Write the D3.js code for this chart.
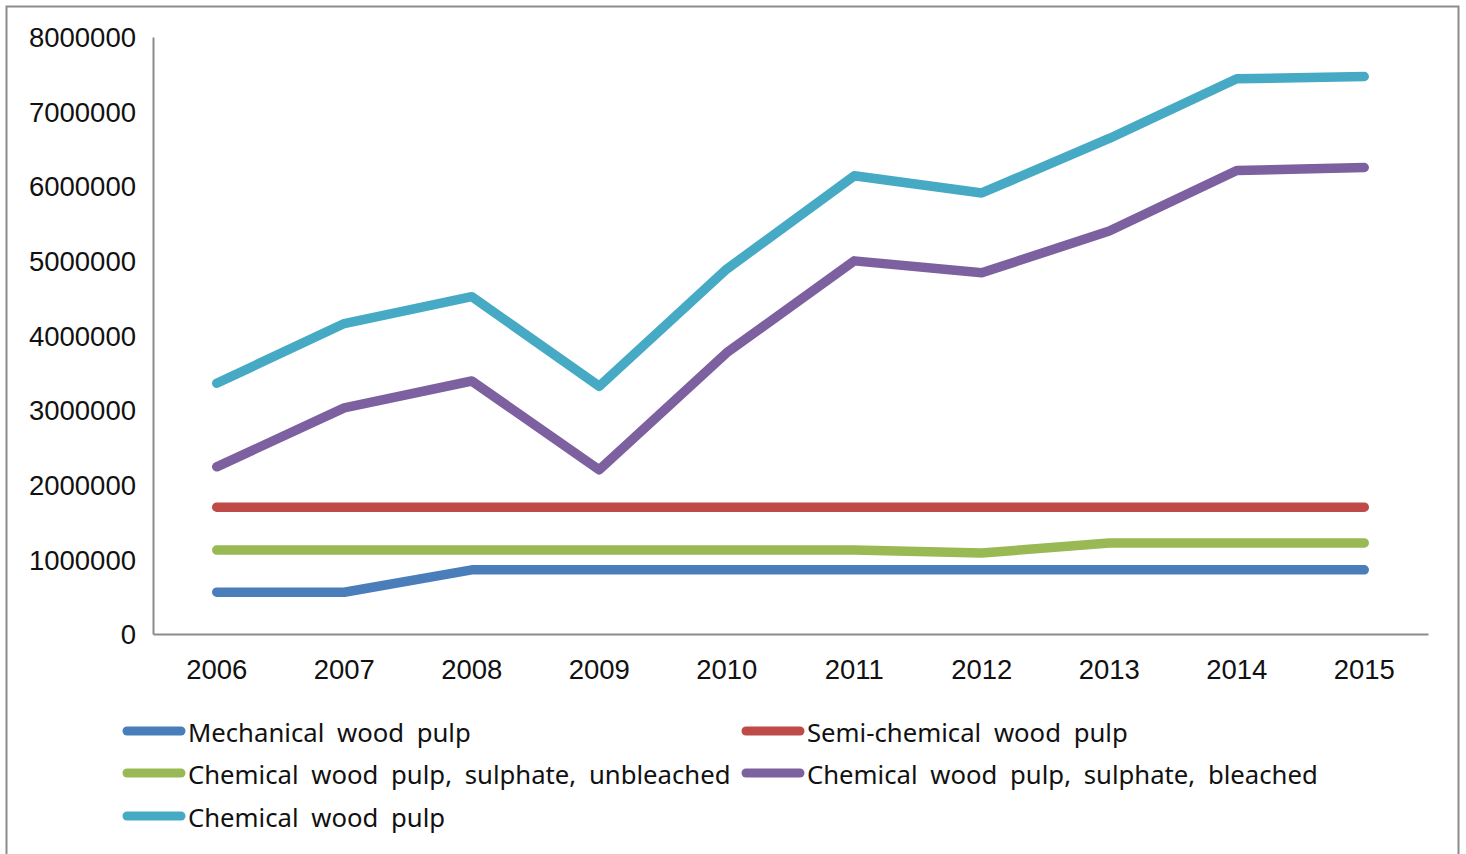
<!DOCTYPE html>
<html>
<head>
<meta charset="utf-8">
<script src="https://cdn.jsdelivr.net/npm/d3@7"></script>
<style>
  body { margin: 0; background: #fff; }
  svg { display: block; }
  .tick text { font-family: "Liberation Sans", Arial, sans-serif; font-size: 27.5px; fill: #111; }
  .legend text { font-family: "Noto Sans", sans-serif; font-size: 25.7px; fill: #111; word-spacing: 6px; }
</style>
</head>
<body>
<svg width="1466" height="854"></svg>
<script>
// ---------------------------------------------------------------------------
// data
// ---------------------------------------------------------------------------
const years = ["2006", "2007", "2008", "2009", "2010", "2011", "2012", "2013", "2014", "2015"];
const yTicks = [0, 1000000, 2000000, 3000000, 4000000, 5000000, 6000000, 7000000, 8000000];

const mechanical = [560000, 560000, 860000, 860000, 860000, 860000, 860000, 860000, 860000, 860000];
const semiChemical = [1700000, 1700000, 1700000, 1700000, 1700000, 1700000, 1700000, 1700000, 1700000, 1700000];
const unbleached = [1125000, 1125000, 1125000, 1125000, 1125000, 1125000, 1085000, 1220000, 1220000, 1220000];
const bleached = [2240000, 3030000, 3390000, 2200000, 3770000, 5000000, 4840000, 5400000, 6210000, 6250000];
const chemical = [3360000, 4160000, 4520000, 3320000, 4890000, 6140000, 5910000, 6640000, 7440000, 7470000];

const seriesNames = [
  "Mechanical wood pulp",
  "Semi-chemical wood pulp",
  "Chemical wood pulp, sulphate, unbleached",
  "Chemical wood pulp, sulphate, bleached",
  "Chemical wood pulp"
];
const seriesColors = ["#4a7ebb", "#be4b48", "#98b954", "#7d60a0", "#46aac5"];

const series = [mechanical, semiChemical, unbleached, bleached, chemical].map((values, i) => ({
  name: seriesNames[i],
  color: seriesColors[i],
  values: values
}));

// ---------------------------------------------------------------------------
// layout
// ---------------------------------------------------------------------------
const svg = d3.select("svg");

svg
  .append("rect")
  .attr("x", 6.5)
  .attr("y", 6.5)
  .attr("width", 1452)
  .attr("height", 860)
  .attr("fill", "none")
  .attr("stroke", "#8c8c8c")
  .attr("stroke-width", 2);

const x = d3.scaleBand().domain(years).range([153, 1428]);
const y = d3.scaleLinear().domain([0, 8000000]).range([634, 37]);

// y axis
svg
  .append("g")
  .attr("transform", "translate(153,0)")
  .call(d3.axisLeft(y).tickValues(yTicks).tickSize(0).tickPadding(17).tickFormat(d3.format("d")))
  .call((g) => g.select(".domain").attr("stroke", "#8c8c8c").attr("stroke-width", 2))
  .call((g) => g.selectAll(".tick text").attr("dy", "0.35em"));

// x axis
svg
  .append("g")
  .attr("transform", "translate(0,634)")
  .call(d3.axisBottom(x).tickSize(0).tickPadding(25))
  .call((g) => g.select(".domain").attr("stroke", "#8c8c8c").attr("stroke-width", 2))
  .call((g) => g.selectAll(".tick text").attr("dy", "0.71em"));

// ---------------------------------------------------------------------------
// lines
// ---------------------------------------------------------------------------
const line = d3
  .line()
  .x((d, i) => x(years[i]) + x.bandwidth() / 2)
  .y((d) => y(d));

svg
  .append("g")
  .selectAll("path")
  .data(series)
  .join("path")
  .attr("d", (d) => line(d.values))
  .attr("fill", "none")
  .attr("stroke", (d) => d.color)
  .attr("stroke-width", 9.5)
  .attr("stroke-linecap", "round")
  .attr("stroke-linejoin", "round");

// ---------------------------------------------------------------------------
// legend
// ---------------------------------------------------------------------------
const legendPos = [
  [123, 733],
  [742, 733],
  [123, 775],
  [742, 775],
  [123, 818]
];

const legend = svg
  .append("g")
  .attr("class", "legend")
  .selectAll("g")
  .data(series)
  .join("g")
  .attr("transform", (d, i) => `translate(${legendPos[i][0]},${legendPos[i][1]})`);

legend
  .append("line")
  .attr("x1", 4)
  .attr("x2", 58)
  .attr("y1", -2)
  .attr("y2", -2)
  .attr("stroke", (d) => d.color)
  .attr("stroke-width", 9)
  .attr("stroke-linecap", "round");

legend
  .append("text")
  .attr("x", 65)
  .attr("y", 0)
  .attr("dy", "0.35em")
  .text((d) => d.name);
</script>
</body>
</html>
